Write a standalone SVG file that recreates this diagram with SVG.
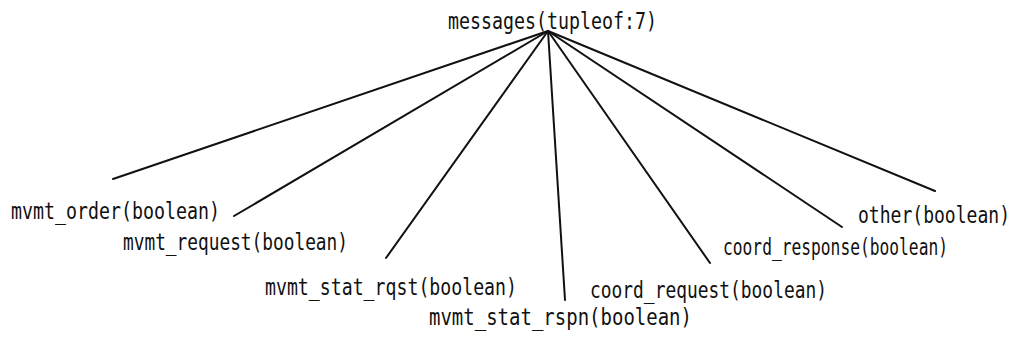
<svg xmlns="http://www.w3.org/2000/svg" width="1019" height="346" viewBox="0 0 1019 346">
<style>
text { font-family: "DejaVu Sans Mono", "Liberation Mono", monospace; font-size: 23px; fill: #111; }
.edge { stroke: #111; stroke-width: 2; fill: none; stroke-linecap: round; }
</style>
<rect width="1019" height="346" fill="#fff"/>
<g id="connectors">
<line class="edge" x1="548" y1="31" x2="113" y2="179"/>
<line class="edge" x1="548" y1="31" x2="234" y2="216"/>
<line class="edge" x1="548" y1="31" x2="386" y2="258"/>
<line class="edge" x1="548" y1="31" x2="565" y2="300"/>
<line class="edge" x1="548" y1="31" x2="710" y2="263"/>
<line class="edge" x1="548" y1="31" x2="842" y2="227"/>
<line class="edge" x1="548" y1="31" x2="935" y2="191"/>
</g>
<g id="node-messages"><text transform="translate(448,29) scale(0.8,1)" textLength="261.25" lengthAdjust="spacingAndGlyphs">messages(tupleof:7)</text></g>
<g id="node-mvmt_order"><text transform="translate(11,219) scale(0.8,1)" textLength="261.25" lengthAdjust="spacingAndGlyphs">mvmt_order(boolean)</text></g>
<g id="node-mvmt_request"><text transform="translate(123,250) scale(0.8,1)" textLength="281.25" lengthAdjust="spacingAndGlyphs">mvmt_request(boolean)</text></g>
<g id="node-mvmt_stat_rqst"><text transform="translate(265,295) scale(0.8,1)" textLength="315" lengthAdjust="spacingAndGlyphs">mvmt_stat_rqst(boolean)</text></g>
<g id="node-mvmt_stat_rspn"><text transform="translate(429,325) scale(0.8,1)" textLength="328.75" lengthAdjust="spacingAndGlyphs">mvmt_stat_rspn(boolean)</text></g>
<g id="node-coord_request"><text transform="translate(590,298) scale(0.8,1)" textLength="296.25" lengthAdjust="spacingAndGlyphs">coord_request(boolean)</text></g>
<g id="node-coord_response"><text transform="translate(723,255) scale(0.8,1)" textLength="281.25" lengthAdjust="spacingAndGlyphs">coord_response(boolean)</text></g>
<g id="node-other"><text transform="translate(858,223) scale(0.8,1)" textLength="190" lengthAdjust="spacingAndGlyphs">other(boolean)</text></g>
</svg>
